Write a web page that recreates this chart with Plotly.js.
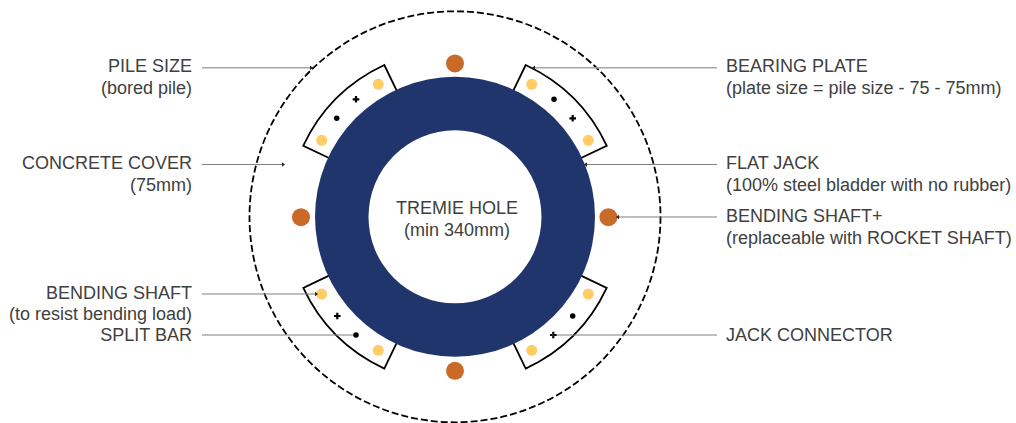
<!DOCTYPE html>
<html>
<head>
<meta charset="utf-8">
<script src="https://cdn.plot.ly/plotly-3.0.1.min.js"></script>
<style>html,body{margin:0;padding:0;background:#fff;overflow:hidden}#c{width:1016px;height:423px}</style>
</head>
<body>
<div id="c"></div>
<script>
// Circles: centre and radius
var centreX = 455, centreY = 216.8;
var pileRadius = 205.5, ringRadius = 140, holeRadius = 86.5;

// Bearing plates: inner corner, outer corner, arc control point, outer corner, inner corner
var plateTR_x = [513.3, 525.7, 581.1, 606.7, 581];
var plateTR_y = [90.7, 65, 90.9, 145.7, 158];
var plateTL_x = [396.7, 384.3, 328.9, 303.3, 329];
var plateTL_y = [90.7, 65, 90.9, 145.7, 158];
var plateBR_x = [513.3, 525.7, 581.1, 606.7, 581];
var plateBR_y = [342.9, 368.6, 342.7, 287.9, 275.6];
var plateBL_x = [396.7, 384.3, 328.9, 303.3, 329];
var plateBL_y = [342.9, 368.6, 342.7, 287.9, 275.6];

// Bars
var orangeX = [455, 455, 301, 608.4];
var orangeY = [63.4, 370.8, 217.2, 217.2];
var yellowX = [378.3, 321.7, 531.7, 588.3, 321.7, 378.3, 588.3, 531.7];
var yellowY = [84.3, 140.3, 84.3, 140.3, 294, 350.3, 294, 350.3];
var dotX = [336.7, 554, 356, 572.7];
var dotY = [118.3, 99.3, 335, 316];
var plusX = [356, 572.7, 337.3, 553.3];
var plusY = [99.3, 118.3, 316, 335];

// Leader lines: [start x, end x], y
var leadersThickX = [[202, 311], [533, 717]];
var leadersThickY = [67.8, 67.8];
var leadersThinX = [[202, 283], [585, 717], [617, 717], [552, 717], [202, 316], [202, 356]];
var leadersThinY = [164.5, 164.5, 217, 335, 294, 335];
var arrowRightX = [311, 283, 316], arrowRightY = [67.8, 164.5, 294];
var arrowLeftX = [534, 586, 618, 553], arrowLeftY = [67.8, 164.5, 217, 335];

// Labels
var leftLabels = ["PILE SIZE", "(bored pile)", "CONCRETE COVER", "(75mm)", "BENDING SHAFT", "(to resist bending load)", "SPLIT BAR"];
var leftLabelY = [67, 89, 164, 186, 294, 315.5, 336];
var rightLabels = ["BEARING PLATE", "(plate size = pile size - 75 - 75mm)", "FLAT JACK", "(100% steel bladder with no rubber)", "BENDING SHAFT+", "(replaceable with ROCKET SHAFT)", "JACK CONNECTOR"];
var rightLabelY = [67, 89, 164, 186, 217, 239, 336];
var centreLabels = ["TREMIE HOLE", "(min 340mm)"];
var centreLabelY = [209, 231];
var leftLabelEdge = 192, rightLabelEdge = 726, centreLabelX = 457;

function rep(v, n) { var a = []; for (var i = 0; i < n; i++) a.push(v); return a; }
function circle(r, fill, line) {
  return {type: 'circle', xref: 'x', yref: 'y', layer: 'below',
    x0: centreX - r, x1: centreX + r, y0: centreY - r, y1: centreY + r,
    fillcolor: fill, line: line};
}
function plate(x, y) {
  return {type: 'path', xref: 'x', yref: 'y', layer: 'below',
    path: 'M' + x[0] + ',' + y[0] + ' L' + x[1] + ',' + y[1] + ' Q' + x[2] + ',' + y[2] + ' ' + x[3] + ',' + y[3] + ' L' + x[4] + ',' + y[4],
    fillcolor: 'rgba(0,0,0,0)', line: {color: '#000000', width: 1.8}};
}
function leader(xs, y, color, width) {
  return {x: xs, y: [y, y], mode: 'lines', line: {color: color, width: width}, hoverinfo: 'skip', showlegend: false};
}
function markers(x, y, symbol, size, color) {
  return {x: x, y: y, mode: 'markers', marker: {symbol: symbol, size: size, color: color, line: {width: 0}}, hoverinfo: 'skip', showlegend: false};
}
function labels(x, y, t, pos) {
  return {x: x, y: y, text: t, mode: 'text', textposition: pos, textfont: {family: '"Liberation Sans", Arial, sans-serif', size: 18, color: '#404040'}, hoverinfo: 'skip', showlegend: false};
}

var shapes = [
  circle(pileRadius, '#ffffff', {color: '#000000', width: 1.8, dash: '7px,3px'}),
  plate(plateTR_x, plateTR_y), plate(plateTL_x, plateTL_y), plate(plateBR_x, plateBR_y), plate(plateBL_x, plateBL_y),
  circle(ringRadius, '#21356D', {width: 0}),
  circle(holeRadius, '#ffffff', {width: 0})
];

var traces = [];
leadersThickX.forEach(function (xs, i) { traces.push(leader(xs, leadersThickY[i], '#a6a6a6', 1.5)); });
leadersThinX.forEach(function (xs, i) { traces.push(leader(xs, leadersThinY[i], '#7f7f7f', 1)); });
traces.push(markers(orangeX, orangeY, 'circle', 18, '#C96A28'));
traces.push(markers(yellowX, yellowY, 'circle', 11, '#FFCC66'));
traces.push(markers(dotX, dotY, 'circle', 5.5, '#000000'));
traces.push(markers(plusX, plusY, 'cross', 5.5, '#000000'));
traces.push(markers(arrowRightX, arrowRightY, 'triangle-right', 4, '#222222'));
traces.push(markers(arrowLeftX, arrowLeftY, 'triangle-left', 4, '#222222'));
traces.push(labels(rep(leftLabelEdge, leftLabels.length), leftLabelY, leftLabels, 'middle left'));
traces.push(labels(rep(rightLabelEdge, rightLabels.length), rightLabelY, rightLabels, 'middle right'));
traces.push(labels(rep(centreLabelX, centreLabels.length), centreLabelY, centreLabels, 'middle center'));

var axis = {visible: false, fixedrange: true, showgrid: false, zeroline: false};
var layout = {
  width: 1016, height: 423,
  margin: {l: 0, r: 0, t: 0, b: 0, pad: 0},
  paper_bgcolor: '#ffffff', plot_bgcolor: '#ffffff',
  showlegend: false,
  xaxis: Object.assign({range: [0, 1016]}, axis),
  yaxis: Object.assign({range: [423, 0]}, axis),
  shapes: shapes
};
Plotly.newPlot('c', traces, layout, {displayModeBar: false, staticPlot: true});
</script>
</body>
</html>
